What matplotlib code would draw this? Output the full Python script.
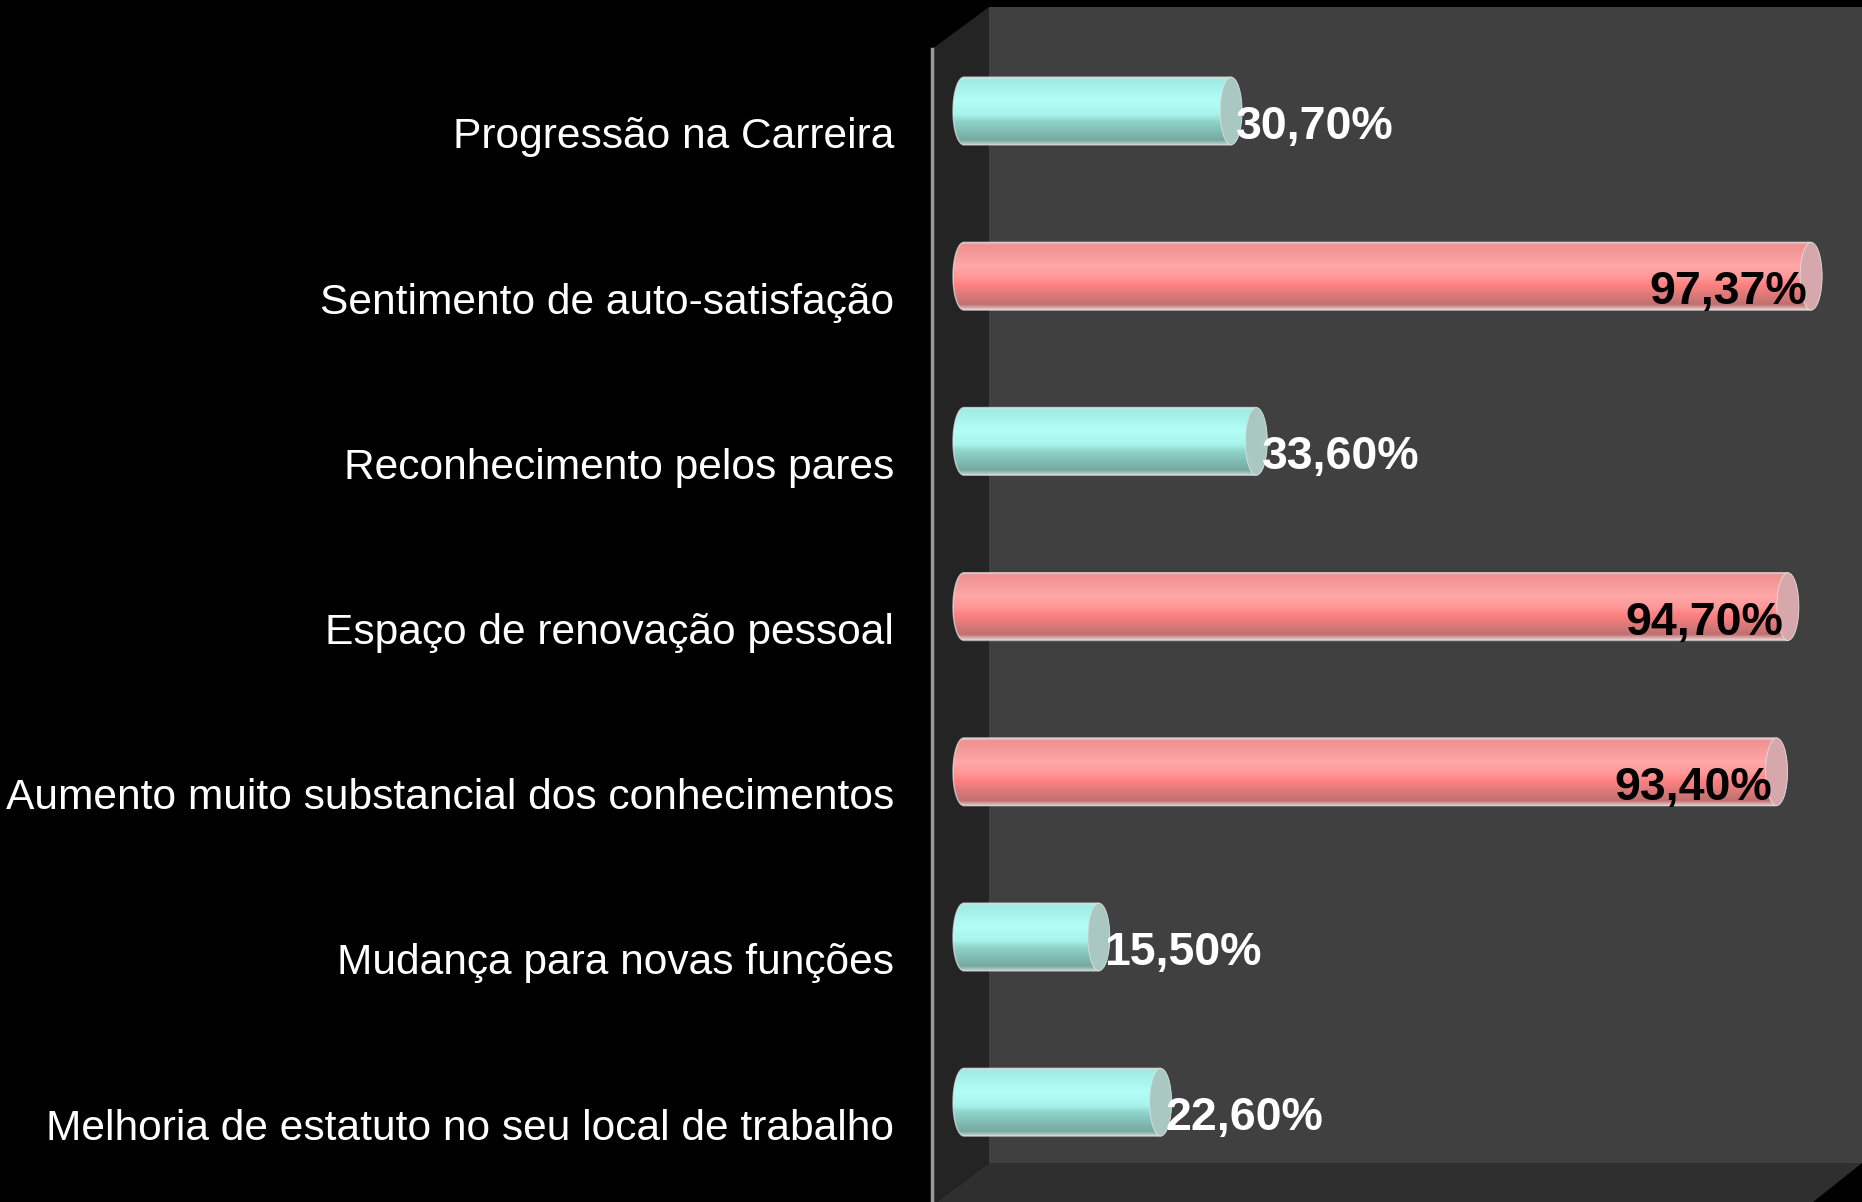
import numpy as np
import matplotlib
matplotlib.use("Agg")
import matplotlib.pyplot as plt
from matplotlib.patches import Polygon, Ellipse
from matplotlib import transforms

categories = [
	"Progressão na Carreira",
	"Sentimento de auto-satisfação",
	"Reconhecimento pelos pares",
	"Espaço de renovação pessoal",
	"Aumento muito substancial dos conhecimentos",
	"Mudança para novas funções",
	"Melhoria de estatuto no seu local de trabalho",
]
values = [30.70, 97.37, 33.60, 94.70, 93.40, 15.50, 22.60]

W, H = 1862, 1202
plt.rcParams['font.family'] = ['Liberation Sans', 'DejaVu Sans']

fig = plt.figure(figsize=(W/100, H/100), dpi=100, facecolor="black")
ax = fig.add_axes([0, 0, 1, 1])
ax.set_axis_off()

# pixel geometry of the plot (full size image)
x0_px = 964      # where value 0 sits
px_per_unit = 8.7
row0_px = 111
row_px = 165.2

def frac(x, y):
	return (x/W, 1 - y/H)

# walls
back = Polygon([frac(989, 7), frac(W, 7), frac(W, 1163), frac(989, 1163)],
	closed=True, transform=ax.transAxes, facecolor="#404040", edgecolor="none", zorder=0)
side = Polygon([frac(932, 49), frac(989, 7), frac(989, 1163), frac(937, 1202), frac(932, 1202)],
	closed=True, transform=ax.transAxes, facecolor="#242424", edgecolor="none", zorder=0)
floor = Polygon([frac(989, 1163), frac(W, 1163), frac(1813, 1202), frac(937, 1202)],
	closed=True, transform=ax.transAxes, facecolor="#2f2f2f", edgecolor="none", zorder=0)
for p in (back, side, floor):
	ax.add_patch(p)
ax.plot([932/W, 932/W], [1 - 49/H, 0], transform=ax.transAxes, color="#9a9a9a", lw=2.5, zorder=1)

def gradient(stops):
	t = np.linspace(0, 1, 256)
	pos = [s[0] for s in stops]
	cols = [matplotlib.colors.to_rgb(s[1]) for s in stops]
	arr = np.zeros((256, 2, 3))
	for k in range(3):
		arr[:, :, k] = np.interp(t, pos, [c[k] for c in cols])[:, None]
	return arr

cyan = gradient([(0, "#cfe6e2"), (0.04, "#9eece4"), (0.35, "#b2fff8"), (0.55, "#a8f4ec"),
	(0.66, "#8ed2c9"), (0.93, "#76a8a0"), (1, "#c8d6d2")])
pink = gradient([(0, "#f0c8c8"), (0.04, "#f09090"), (0.35, "#ffa8a8"), (0.52, "#ff9898"),
	(0.62, "#ff8282"), (0.92, "#c07070"), (1, "#e8d0d0")])
cyan_cap = "#a9c8c2"
pink_cap = "#d6a8ac"

h = 0.41
a = 11/px_per_unit   # half width of the cylinder end
t = np.linspace(0, np.pi, 40)
label_tf = transforms.blended_transform_factory(ax.transAxes, ax.transData)

for i, (cat, v) in enumerate(zip(categories, values)):
	high = v > 50
	pts = list(zip(-a*np.sin(t), i - h/2*np.cos(t))) + [(v, i + h/2), (v, i - h/2)]
	body = Polygon(pts, closed=True, transform=ax.transData, facecolor="none",
		edgecolor="#e6e6e6", lw=1.0, alpha=0.7, zorder=3)
	im = ax.imshow(pink if high else cyan, extent=(-a, v, i + h/2, i - h/2),
		aspect="auto", origin="upper", interpolation="bilinear", zorder=2)
	im.set_clip_path(body)
	ax.add_patch(body)
	ax.add_patch(Ellipse((v, i), 2*a, h, facecolor=pink_cap if high else cyan_cap,
		edgecolor="#e0e0e0", lw=0.6, zorder=4))

	ax.text(894/W, i + 0.226, cat, transform=label_tf, ha="right", va="baseline",
		color="white", fontsize=30.6)
	txt = f"{v:.2f}".replace(".", ",") + "%"
	if high:
		ax.text(v - 0.5, i + 0.17, txt, ha="right", va="baseline", color="black",
			fontsize=33.5, fontweight="bold", zorder=5)
	else:
		ax.text(v + 0.6, i + 0.17, txt, ha="left", va="baseline", color="white",
			fontsize=33.5, fontweight="bold", zorder=5)

ax.set_xlim(-x0_px/px_per_unit, (W - x0_px)/px_per_unit)
ax.set_ylim((H - row0_px)/row_px, -row0_px/row_px)
fig.savefig("out.png", dpi=100, facecolor="black")
